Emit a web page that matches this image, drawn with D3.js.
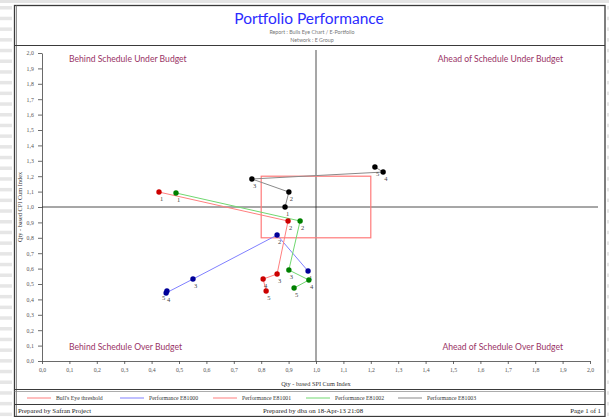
<!DOCTYPE html>
<html><head><meta charset="utf-8">
<script src="https://cdn.jsdelivr.net/npm/d3@7"></script>
<style>html,body{margin:0;padding:0;background:#fff;}svg{display:block;}</style>
</head><body>
<script>
// ---- data ----
const xTicks = [0,0.1,0.2,0.3,0.4,0.5,0.6,0.7,0.8,0.9,1.0,1.1,1.2,1.3,1.4,1.5,1.6,1.7,1.8,1.9,2.0];
const yTicks = xTicks;
const pointLabels = ["1","2","3","4","5"];
const spiE81000 = [0.971, 0.858, 0.551, 0.453, 0.456];
const cpiE81000 = [0.584, 0.818, 0.532, 0.442, 0.455];
const spiE81001 = [0.427, 0.898, 0.858, 0.807, 0.818];
const cpiE81001 = [1.097, 0.909, 0.565, 0.532, 0.455];
const spiE81002 = [0.489, 0.942, 0.901, 0.974, 0.920];
const cpiE81002 = [1.091, 0.909, 0.591, 0.526, 0.474];
const spiE81003 = [0.887, 0.901, 0.766, 1.245, 1.215];
const cpiE81003 = [1.000, 1.097, 1.182, 1.227, 1.260];
const bullsEye = [0.8, 1.2];
const seriesNames = ["Performance E81000","Performance E81001","Performance E81002","Performance E81003"];
const legendNames = ["Bull's Eye threshold"].concat(seriesNames);
const quadrantLabels = ["Behind Schedule Under Budget","Ahead of Schedule Under Budget","Behind Schedule Over Budget","Ahead of Schedule Over Budget"];

const W = 609, H = 417;
const svg = d3.select("body").append("svg").attr("width", W).attr("height", H);
const serif = "'Liberation Serif','DejaVu Serif',serif";
const sans = "Lato,'Open Sans',sans-serif";

// page background stripes
svg.append("rect").attr("x",0).attr("y",0).attr("width",W).attr("height",3).attr("fill","#e4e4e4");
for (let yy = 6; yy < H; yy += 10.7) {
  svg.append("rect").attr("x",0).attr("y",yy).attr("width",12).attr("height",3.5).attr("fill","#e6e6e6");
  svg.append("rect").attr("x",607).attr("y",yy).attr("width",2).attr("height",3.5).attr("fill","#e6e6e6");
}

// frame
svg.append("rect").attr("x",14.5).attr("y",5.5).attr("width",590.5).attr("height",411).attr("fill","#fff").attr("stroke","#3a3a3a").attr("stroke-width",1.3);
svg.append("line").attr("x1",16.5).attr("x2",16.5).attr("y1",5.5).attr("y2",416).attr("stroke","#777").attr("stroke-width",0.8);
[45.5, 389.5, 391.5, 404.5].forEach((yy,i)=>{
  svg.append("line").attr("x1",14.5).attr("x2",605).attr("y1",yy).attr("y2",yy)
    .attr("stroke", i===2 ? "#888" : "#3a3a3a").attr("stroke-width", i===2 ? 0.7 : 1.2);
});

// header
svg.append("text").attr("x",309).attr("y",24).attr("text-anchor","middle")
  .attr("font-family",sans).attr("font-size",15.5).attr("fill","#2b2bff").text("Portfolio Performance");
svg.append("text").attr("x",312).attr("y",34).attr("text-anchor","middle")
  .attr("font-family",sans).attr("font-size",5.3).attr("fill","#777").text("Report : Bulls Eye Chart / E-Portfolio");
svg.append("text").attr("x",312).attr("y",42).attr("text-anchor","middle")
  .attr("font-family",sans).attr("font-size",5.3).attr("fill","#777").text("Network : E Group");

// scales
const x = d3.scaleLinear().domain([0,2]).range([42,590]);
const y = d3.scaleLinear().domain([0,2]).range([361,53]);
const fmt = d => d3.format(".1f")(d).replace(".", ",");

// axes
const gx = svg.append("g").attr("transform","translate(0,361)")
  .call(d3.axisBottom(x).tickValues(xTicks).tickFormat(fmt).tickSize(3).tickSizeOuter(0));
const gy = svg.append("g").attr("transform","translate(42,0)")
  .call(d3.axisLeft(y).tickValues(yTicks).tickFormat(fmt).tickSize(4).tickSizeOuter(0));
[gx,gy].forEach(g=>{
  g.selectAll("path,line").attr("stroke","#444").attr("stroke-width",0.8);
  g.selectAll("text").attr("font-family",serif).attr("font-size",5.8).attr("fill","#555");
});
gx.selectAll("text").attr("dy","0.9em");
gy.selectAll("text").attr("dx","-0.2em");

// crosshair
svg.append("line").attr("x1",x(1)).attr("x2",x(1)).attr("y1",50).attr("y2",361).attr("stroke","#222").attr("stroke-width",0.8);
svg.append("line").attr("x1",42).attr("x2",598).attr("y1",y(1)).attr("y2",y(1)).attr("stroke","#222").attr("stroke-width",0.8);

// axis titles
svg.append("text").attr("x",316).attr("y",386).attr("text-anchor","middle")
  .attr("font-family",serif).attr("font-size",6.3).attr("fill","#333").text("Qty - based SPI Cum Index");
svg.append("text").attr("transform","translate(22,207) rotate(-90)").attr("text-anchor","middle")
  .attr("font-family",serif).attr("font-size",6.3).attr("fill","#333").text("Qty - based CPI Cum Index");

// quadrant labels
const qc = "#993366";
svg.append("text").attr("x",69).attr("y",62).attr("font-family",sans).attr("font-size",8.6).attr("fill",qc).text(quadrantLabels[0]);
svg.append("text").attr("x",563).attr("y",62).attr("text-anchor","end").attr("font-family",sans).attr("font-size",8.6).attr("fill",qc).text(quadrantLabels[1]);
svg.append("text").attr("x",69).attr("y",350).attr("font-family",sans).attr("font-size",8.6).attr("fill",qc).text(quadrantLabels[2]);
svg.append("text").attr("x",563).attr("y",350).attr("text-anchor","end").attr("font-family",sans).attr("font-size",8.6).attr("fill",qc).text(quadrantLabels[3]);

// bull's eye
svg.append("rect").attr("x",x(bullsEye[0])).attr("y",y(bullsEye[1]))
  .attr("width",x(bullsEye[1])-x(bullsEye[0])).attr("height",y(bullsEye[0])-y(bullsEye[1]))
  .attr("fill","none").attr("stroke","#ff7a7a").attr("stroke-width",1.2);

// series
const series = [
  {spi:spiE81000, cpi:cpiE81000, line:"#8080ff", dot:"#000099"},
  {spi:spiE81001, cpi:cpiE81001, line:"#ff7f7f", dot:"#cc0000"},
  {spi:spiE81002, cpi:cpiE81002, line:"#70d870", dot:"#008000"},
  {spi:spiE81003, cpi:cpiE81003, line:"#8a8a8a", dot:"#000000"}
];
const lineGen = d3.line().x(d=>x(d[0])).y(d=>y(d[1]));
series.forEach(s=>{
  const pts = s.spi.map((v,i)=>[v, s.cpi[i]]);
  svg.append("path").attr("d",lineGen(pts)).attr("fill","none").attr("stroke",s.line).attr("stroke-width",1);
});
// label placement with simple collision avoidance
const placed = [];
series.forEach(s=>{
  const pts = s.spi.map((v,i)=>[v, s.cpi[i]]);
  const g = svg.append("g");
  g.selectAll("circle").data(pts).join("circle")
    .attr("cx",d=>x(d[0])).attr("cy",d=>y(d[1])).attr("r",2.7).attr("fill",s.dot);
  pts.forEach((d,i)=>{
    let lx = x(d[0]) + 1, ly = y(d[1]) + 9;
    for (const p of placed) {
      if (Math.abs(p[0]-lx) < 5 && Math.abs(p[1]-ly) < 7) { lx = p[0] - 5; }
    }
    placed.push([lx, ly]);
    g.append("text").attr("x",lx).attr("y",ly)
      .attr("font-family",serif).attr("font-size",6.5).attr("fill","#444")
      .text(pointLabels[i]);
  });
});

// legend
const legendColors = ["#ff7f7f","#8080ff","#ff7f7f","#70d870","#8a8a8a"];
const legendX = [27,120,213,306,398];
legendNames.forEach((n,i)=>{
  svg.append("line").attr("x1",legendX[i]).attr("x2",legendX[i]+24).attr("y1",398).attr("y2",398)
    .attr("stroke",legendColors[i]).attr("stroke-width",1);
  svg.append("text").attr("x",legendX[i]+29).attr("y",400).attr("font-family",serif).attr("font-size",5.8)
    .attr("fill","#333").text(n);
});

// footer
svg.append("text").attr("x",18).attr("y",412.5).attr("font-family",serif).attr("font-size",6.8).attr("fill","#222").text("Prepared by Safran Project");
svg.append("text").attr("x",313).attr("y",412.5).attr("text-anchor","middle").attr("font-family",serif).attr("font-size",6.8).attr("fill","#222").text("Prepared by dba on 18-Apr-13 21:08");
svg.append("text").attr("x",601).attr("y",412.5).attr("text-anchor","end").attr("font-family",serif).attr("font-size",6.8).attr("fill","#222").text("Page 1 of 1");
</script>
</body></html>
